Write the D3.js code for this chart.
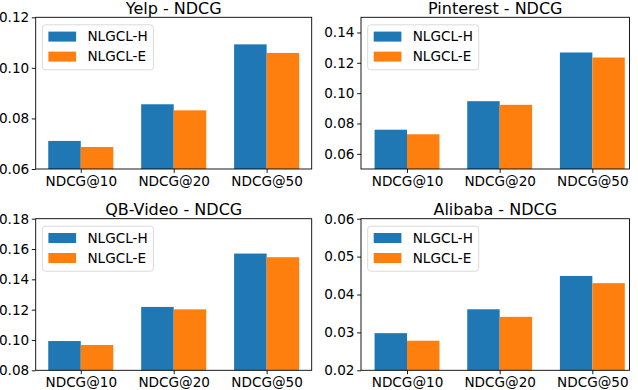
<!DOCTYPE html>
<html>
<head>
<meta charset="utf-8">
<script src="https://cdn.jsdelivr.net/npm/d3@7"></script>
<style>
  body { margin: 0; background: #fff; }
  svg { font-family: "DejaVu Sans", sans-serif; }
</style>
</head>
<body>
<script>
// data
const categories = ["NDCG@10", "NDCG@20", "NDCG@50"];
const seriesNames = ["NLGCL-H", "NLGCL-E"];

const yelpH = [0.0711, 0.0856, 0.1093];
const yelpE = [0.0687, 0.0832, 0.1059];
const pinterestH = [0.0759, 0.0947, 0.1268];
const pinterestE = [0.0729, 0.0923, 0.1235];
const qbvideoH = [0.0993, 0.1218, 0.1570];
const qbvideoE = [0.0967, 0.1202, 0.1546];
const alibabaH = [0.0298, 0.0361, 0.0449];
const alibabaE = [0.0278, 0.0341, 0.0430];

const yelpTicks = [0.06, 0.08, 0.10, 0.12];
const pinterestTicks = [0.06, 0.08, 0.10, 0.12, 0.14];
const qbvideoTicks = [0.08, 0.10, 0.12, 0.14, 0.16, 0.18];
const alibabaTicks = [0.02, 0.03, 0.04, 0.05, 0.06];

const colors = ["#1f77b4", "#ff7f0e"];

const W = 638, H = 390;
const fs = "13.6px";
const svg = d3.select("body").append("svg")
  .attr("width", W)
  .attr("height", H);

// panel boxes (px) and axis limits
const panels = [
  { title: "Yelp - NDCG", h: yelpH, e: yelpE, ticks: yelpTicks, ylim: [0.06, 0.12],
    left: 35.7, right: 311.7, top: 17.3, bottom: 169, xlim: [-0.485, 2.485] },
  { title: "Pinterest - NDCG", h: pinterestH, e: pinterestE, ticks: pinterestTicks, ylim: [0.05, 0.15],
    left: 361, right: 629.5, top: 17.3, bottom: 169, xlim: [-0.4965, 2.401] },
  { title: "QB-Video - NDCG", h: qbvideoH, e: qbvideoE, ticks: qbvideoTicks, ylim: [0.08, 0.18],
    left: 35.7, right: 311.7, top: 218.7, bottom: 370.3, xlim: [-0.485, 2.485] },
  { title: "Alibaba - NDCG", h: alibabaH, e: alibabaE, ticks: alibabaTicks, ylim: [0.02, 0.06],
    left: 361, right: 629.5, top: 218.7, bottom: 370.3, xlim: [-0.4965, 2.401] }
];

const barW = 0.35;

panels.forEach(p => {
  const g = svg.append("g");

  const x = d3.scaleLinear().domain(p.xlim).range([p.left, p.right]);
  const y = d3.scaleLinear().domain(p.ylim).range([p.bottom, p.top]);

  // bars
  const series = [p.h, p.e];
  series.forEach((vals, si) => {
    g.selectAll(null)
      .data(vals)
      .enter()
      .append("rect")
      .attr("x", (d, i) => x(i + (si === 0 ? -barW : 0)))
      .attr("width", x(barW) - x(0))
      .attr("y", d => y(d))
      .attr("height", d => y(p.ylim[0]) - y(d))
      .attr("fill", colors[si]);
  });

  // y axis
  const yAxis = d3.axisLeft(y)
    .tickValues(p.ticks)
    .tickFormat(d3.format(".2f"))
    .tickSize(3.9)
    .tickPadding(2.6);
  const ya = g.append("g")
    .attr("transform", "translate(" + p.left + ",0)")
    .call(yAxis);
  ya.select(".domain").remove();
  ya.selectAll("line").attr("stroke", "#000").attr("stroke-width", 0.9);
  ya.selectAll("text").attr("font-size", fs).attr("fill", "#000")
    .attr("font-family", "DejaVu Sans");

  // x axis
  const xAxis = d3.axisBottom(x)
    .tickValues([0, 1, 2])
    .tickFormat(i => categories[i])
    .tickSize(3.9)
    .tickPadding(3.2);
  const xa = g.append("g")
    .attr("transform", "translate(0," + p.bottom + ")")
    .call(xAxis);
  xa.select(".domain").remove();
  xa.selectAll("line").attr("stroke", "#000").attr("stroke-width", 0.9);
  xa.selectAll("text").attr("font-size", fs).attr("fill", "#000")
    .attr("font-family", "DejaVu Sans");

  // frame
  g.append("rect")
    .attr("x", p.left)
    .attr("y", p.top)
    .attr("width", p.right - p.left)
    .attr("height", p.bottom - p.top)
    .attr("fill", "none")
    .attr("stroke", "#000")
    .attr("stroke-width", 0.9);

  // title
  g.append("text")
    .attr("x", (p.left + p.right) / 2)
    .attr("y", p.top - 3.6)
    .attr("text-anchor", "middle")
    .attr("font-size", "16px")
    .attr("fill", "#000")
    .text(p.title);

  // legend
  const lx = p.left + 6.7, ly = p.top + 7.5;
  const leg = g.append("g").attr("transform", "translate(" + lx + "," + ly + ")");
  leg.append("rect")
    .attr("width", 111)
    .attr("height", 45)
    .attr("rx", 3)
    .attr("fill", "#fff")
    .attr("fill-opacity", 0.8)
    .attr("stroke", "#d6d6d6")
    .attr("stroke-width", 0.9);
  seriesNames.forEach((name, i) => {
    const cy = 11.8 + i * 20;
    leg.append("rect")
      .attr("x", 6)
      .attr("y", cy - 5)
      .attr("width", 27.7)
      .attr("height", 10)
      .attr("fill", colors[i]);
    leg.append("text")
      .attr("x", 45)
      .attr("y", cy + 4.9)
      .attr("font-size", fs)
      .attr("fill", "#000")
      .text(name);
  });
});
</script>
</body>
</html>
